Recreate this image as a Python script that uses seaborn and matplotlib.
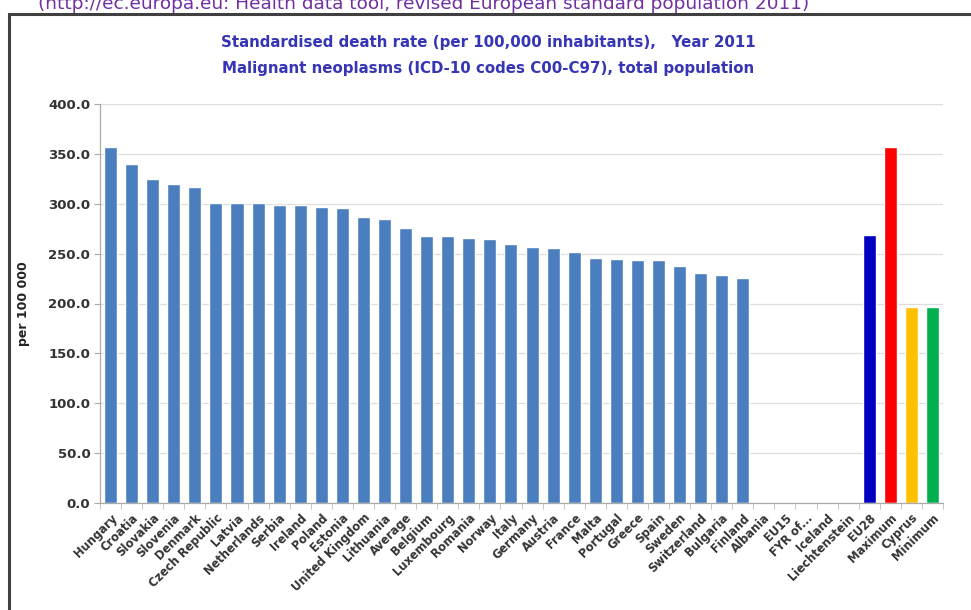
import numpy as np
import pandas as pd
import matplotlib
matplotlib.use('Agg')
import matplotlib.pyplot as plt
from matplotlib.patches import Rectangle
import seaborn as sns

# Данные: стандартизованная смертность от злокачественных новообразований, 2011
countries = ['Hungary', 'Croatia', 'Slovakia', 'Slovenia', 'Denmark', 'Czech Republic',
             'Latvia', 'Netherlands', 'Serbia', 'Ireland', 'Poland', 'Estonia',
             'United Kingdom', 'Lithuania', 'Average', 'Belgium', 'Luxembourg', 'Romania',
             'Norway', 'Italy', 'Germany', 'Austria', 'France', 'Malta', 'Portugal',
             'Greece', 'Spain', 'Sweden', 'Switzerland', 'Bulgaria', 'Finland',
             'Albania', 'EU15', 'FYR of...', 'Iceland', 'Liechtenstein',
             'EU28', 'Maximum', 'Cyprus', 'Minimum']
rates = [357, 340, 325, 320, 317, 301,
         301, 301, 299, 299, 297, 296,
         287, 285, 276, 268, 268, 266,
         265, 260, 257, 256, 252, 246, 245,
         244, 244, 238, 231, 229, 226,
         None, None, None, None, None,
         269, 357, 196, 196]

base_color = '#4a7ebf'
special_colors = {'EU28': '#0000c0', 'Maximum': '#ff0000', 'Cyprus': '#ffc000', 'Minimum': '#00b050'}

df = pd.DataFrame({'Country': countries, 'Rate': rates}).dropna()
palette = {c: special_colors.get(c, base_color) for c in countries}

sns.set_style('white')
plt.rcParams['font.family'] = ['DejaVu Sans']

fig = plt.figure(figsize=(9.71, 6.10), dpi=100)
ax = fig.add_axes([100 / 971, 1 - 503 / 610, 843 / 971, 399 / 610])

sns.barplot(data=df, x='Country', y='Rate', hue='Country', order=countries,
            palette=palette, width=0.62, legend=False, saturation=1, ax=ax)

ax.set_ylim(0, 400)
ax.set_xlim(-0.5, len(countries) - 0.5)
ax.set_yticks(np.arange(0, 401, 50))
ax.set_yticklabels([f'{v:.1f}' for v in np.arange(0, 401, 50)],
                   fontsize=9.5, fontweight='bold', color='#333333')
ax.yaxis.grid(True, color='#dddddd', linewidth=0.9)
ax.set_axisbelow(True)

ax.set_xticks(range(len(countries)))
ax.set_xticklabels(countries, rotation=45, ha='right', rotation_mode='anchor',
                   fontsize=8.3, fontweight='bold', color='#333333')
ax.set_xticks(np.arange(-0.5, len(countries)), minor=True)
ax.tick_params(axis='x', which='major', length=0, pad=6)
ax.tick_params(axis='x', which='minor', length=4, color='#bbbbbb', bottom=True)
ax.tick_params(axis='y', length=4, color='#aaaaaa', direction='out', left=True, pad=3)

for s in ['top', 'right']:
    ax.spines[s].set_visible(False)
ax.spines['left'].set_color('#aaaaaa')
ax.spines['bottom'].set_color('#aaaaaa')
ax.spines['left'].set_linewidth(0.9)
ax.spines['bottom'].set_linewidth(0.9)

ax.set_xlabel('')
ax.set_ylabel('per 100 000', fontsize=9, fontweight='bold', color='#222222')
ax.yaxis.set_label_coords(-0.083, 0.5)

# Заголовок диаграммы
fig.text(488 / 971, 1 - 42 / 610,
         'Standardised death rate (per 100,000 inhabitants),   Year 2011',
         ha='center', va='center', fontsize=10.8, fontweight='bold', color='#3535b5')
fig.text(488 / 971, 1 - 68 / 610,
         'Malignant neoplasms (ICD-10 codes C00-C97), total population',
         ha='center', va='center', fontsize=10.8, fontweight='bold', color='#3535b5')

# Обрезанная строка источника сверху (в оригинале видна только нижняя часть)
fig.text(424 / 971, 1 - 9 / 610,
         '(http://ec.europa.eu: Health data tool, revised European standard population 2011)',
         ha='center', va='baseline', fontsize=13.3, color='#7030a0')

# Рамка диаграммы
fig.patches.append(Rectangle((9 / 971, -0.05), 1.0, 1 - 14 / 610 + 0.05,
                             transform=fig.transFigure, fill=False,
                             edgecolor='#404040', linewidth=2.2, zorder=0))

plt.savefig('out.png', dpi=100)
